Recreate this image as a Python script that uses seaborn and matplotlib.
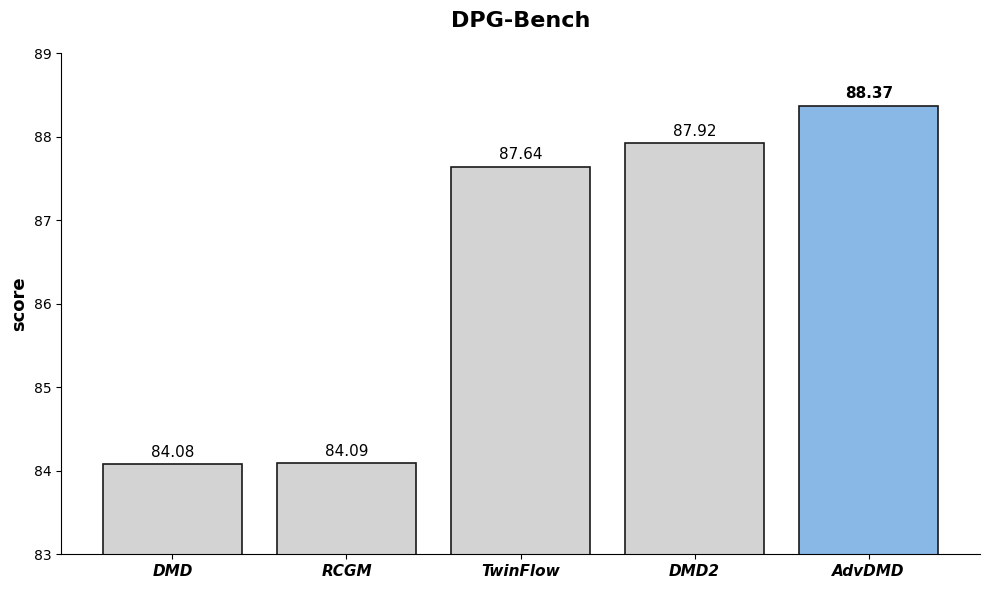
import pandas as pd
import seaborn as sns
import matplotlib.pyplot as plt

methods = ['DMD', 'RCGM', 'TwinFlow', 'DMD2', 'AdvDMD']
scores = [84.08, 84.09, 87.64, 87.92, 88.37]
colors = ['#d3d3d3', '#d3d3d3', '#d3d3d3', '#d3d3d3', '#89b7e6']

df = pd.DataFrame({'method': methods, 'score': scores})

fig, ax = plt.subplots(figsize=(9.89, 5.89), dpi=100)
sns.barplot(data=df, x='method', y='score', hue='method', palette=colors,
            legend=False, width=0.8, edgecolor='#1a1a1a', linewidth=1.2,
            saturation=1, ax=ax)

ax.set_ylim(83, 89)
ax.set_xlim(-0.64, 4.64)
ax.set_title('DPG-Bench', fontsize=16, fontweight='bold', pad=19)
ax.set_xlabel('')
ax.set_ylabel('score', fontsize=13, fontweight='bold')
for lbl in ax.get_xticklabels():
    lbl.set_fontstyle('italic')
    lbl.set_fontweight('bold')
    lbl.set_fontsize(11)
ax.tick_params(axis='y', labelsize=10)

# value labels
for i, v in enumerate(scores):
    best = v == max(scores)
    ax.text(i, v + 0.05, f'{v:.2f}', ha='center', va='bottom', fontsize=11,
            fontweight='bold' if best else 'normal')

sns.despine(ax=ax)
plt.subplots_adjust(left=0.0617, right=0.991, top=0.910, bottom=0.0594)
plt.savefig('out.png')
